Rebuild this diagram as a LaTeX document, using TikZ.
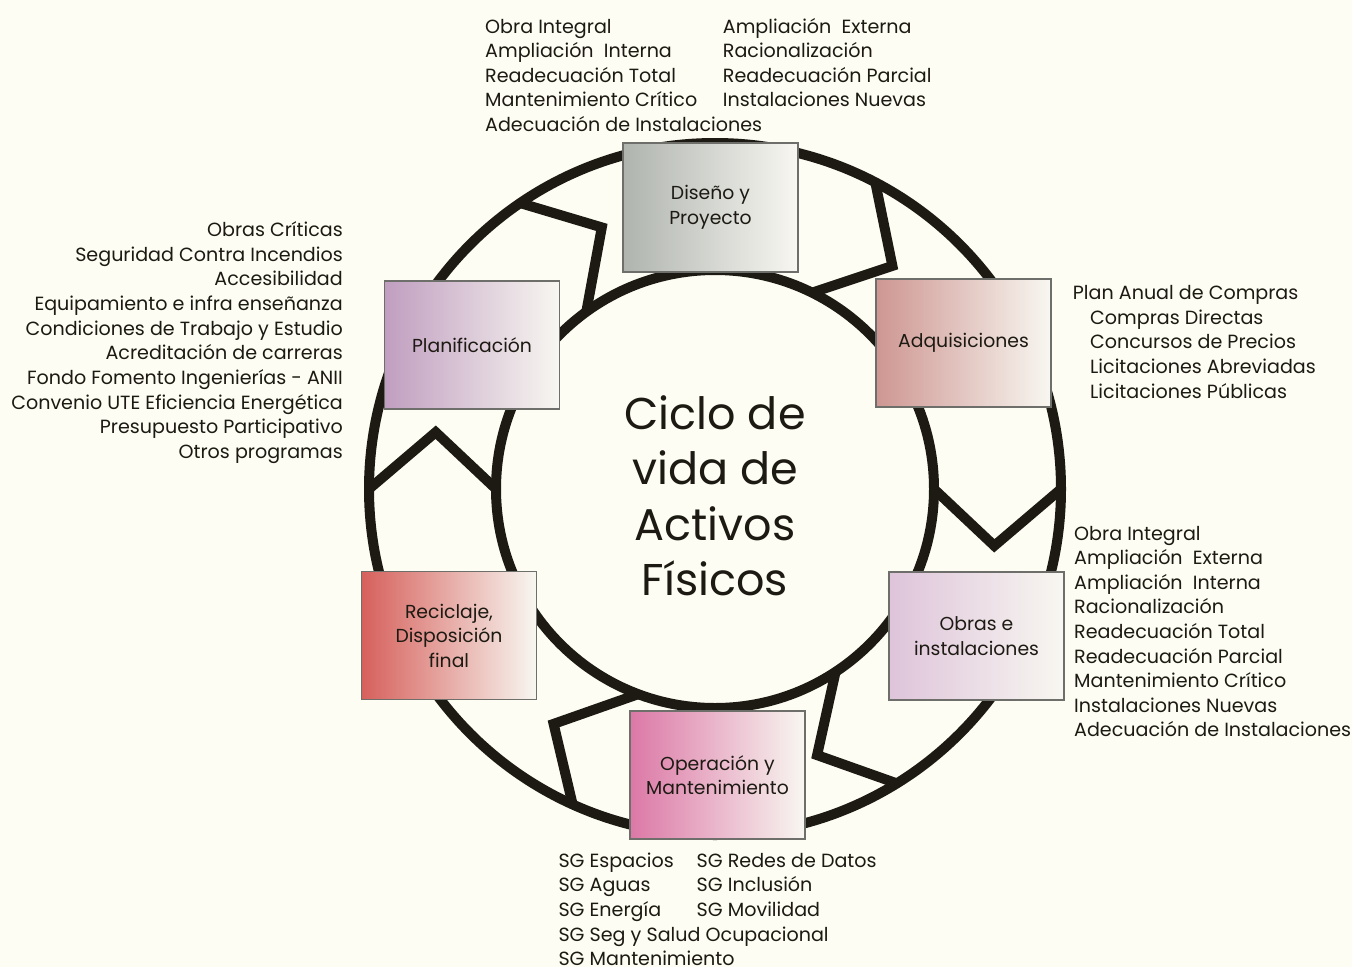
\documentclass[tikz,border=0pt]{standalone}
\usepackage{fontspec}
\setmainfont{Poppins}
\definecolor{bg}{HTML}{FDFDF4}
\definecolor{ink}{HTML}{1C1A12}
\definecolor{edge}{HTML}{6E6E6A}
\definecolor{fade}{HTML}{F8F7F1}
\definecolor{cdis}{HTML}{AFB4AF}
\definecolor{cpla}{HTML}{C09EC0}
\definecolor{cadq}{HTML}{CE9692}
\definecolor{cobr}{HTML}{DEC4DA}
\definecolor{crec}{HTML}{D6605C}
\definecolor{cope}{HTML}{DC78A6}
\begin{document}
\begin{tikzpicture}[x=1pt,y=-1pt,
  ring/.style={draw=ink, line width=10pt},
  chev/.style={draw=ink, line width=10pt, line join=miter},
  stage/.style={draw=edge, line width=1.4pt, minimum width=175pt, minimum height=128pt,
    align=center, font=\fontsize{18.8}{24.5}\selectfont, text=ink, inner sep=0pt, right color=fade},
  lst/.style={font=\fontsize{19.1}{24.6}\selectfont, text=ink, inner sep=0pt},
  big/.style={font=\fontsize{44.5}{55.5}\selectfont, text=ink, inner sep=0pt, align=center}
]
\fill[bg] (0,0) rectangle (1352,967);
\useasboundingbox (0,0) rectangle (1352,967);

% ring
\coordinate (c) at (715,489);
\draw[ring] (c) circle[radius=346];
\draw[ring] (c) circle[radius=219];

% chevrons (outer end, apex, inner end)
\draw[chev] (369,489) -- (435.7,432.2) -- (496,489);
\draw[chev] (520,203) -- (601.8,227.4) -- (586.3,311.8);
\draw[chev] (875.3,182.4) -- (892.4,265.9) -- (812,292.7);
\draw[chev] (1061,489) -- (994.3,545.8) -- (934,489);
\draw[chev] (896.8,783.4) -- (817.1,755.1) -- (835.6,671.8);
\draw[chev] (572.6,804.3) -- (553.6,723.9) -- (638.3,694.1);

% stage boxes
\node[stage, left color=cdis, minimum width=175pt, minimum height=129pt] (dis) at (710.5,207.5) {Diseño y\\Proyecto};
\node[stage, left color=cpla] (pla) at (472,345) {Planificación};
\node[stage, left color=cadq] (adq) at (963.5,343) {Adquisiciones};
\node[stage, left color=cobr] (obr) at (976.5,636) {Obras e\\instalaciones};
\node[stage, left color=crec] (rec) at (449,635.5) {Reciclaje,\\Disposición\\final};
\node[stage, left color=cope] (ope) at (717.5,775) {Operación y\\Mantenimiento};

% centre title
\node[big] (title) at (715,496) {Ciclo de\\vida de\\Activos\\Físicos};

% top lists
\foreach \t [count=\i from 0] in {Obra Integral, Ampliación\ \ Interna, Readecuación Total, Mantenimiento Crítico, Adecuación de Instalaciones}
  \node[lst, anchor=base west] (ta\i) at (485, 33.3+24.5*\i) {\t};
\foreach \t [count=\i from 0] in {Ampliación\ \ Externa, Racionalización, Readecuación Parcial, Instalaciones Nuevas}
  \node[lst, anchor=base west] (tb\i) at (722.7, 33.3+24.5*\i) {\t};

% left list
\foreach \t [count=\i from 0] in {Obras Críticas, Seguridad Contra Incendios, Accesibilidad, Equipamiento e infra enseñanza, Condiciones de Trabajo y Estudio, Acreditación de carreras, Fondo Fomento Ingenierías - ANII, Convenio UTE Eficiencia Energética, Presupuesto Participativo, Otros programas}
  \node[lst, anchor=base east] (l\i) at (343, 236.7+24.63*\i) {\t};

% right upper list
\node[lst, anchor=base west] (ra0) at (1072.7, 299.3) {Plan Anual de Compras};
\foreach \t [count=\i from 1] in {Compras Directas, Concursos de Precios, Licitaciones Abreviadas, Licitaciones Públicas}
  \node[lst, anchor=base west] (ra\i) at (1090, 299.3+24.75*\i) {\t};

% right lower list
\foreach \t [count=\i from 0] in {Obra Integral, Ampliación\ \ Externa, Ampliación\ \ Interna, Racionalización, Readecuación Total, Readecuación Parcial, Mantenimiento Crítico, Instalaciones Nuevas, Adecuación de Instalaciones}
  \node[lst, anchor=base west] (rb\i) at (1074, 540+24.6*\i) {\t};

% bottom lists
\foreach \t [count=\i from 0] in {SG Espacios, SG Aguas, SG Energía, SG Seg y Salud Ocupacional, SG Mantenimiento}
  \node[lst, anchor=base west] (ba\i) at (558.3, 867.3+24.6*\i) {\t};
\foreach \t [count=\i from 0] in {SG Redes de Datos, SG Inclusión, SG Movilidad}
  \node[lst, anchor=base west] (bb\i) at (696.5, 867.3+24.6*\i) {\t};
\end{tikzpicture}
\end{document}
